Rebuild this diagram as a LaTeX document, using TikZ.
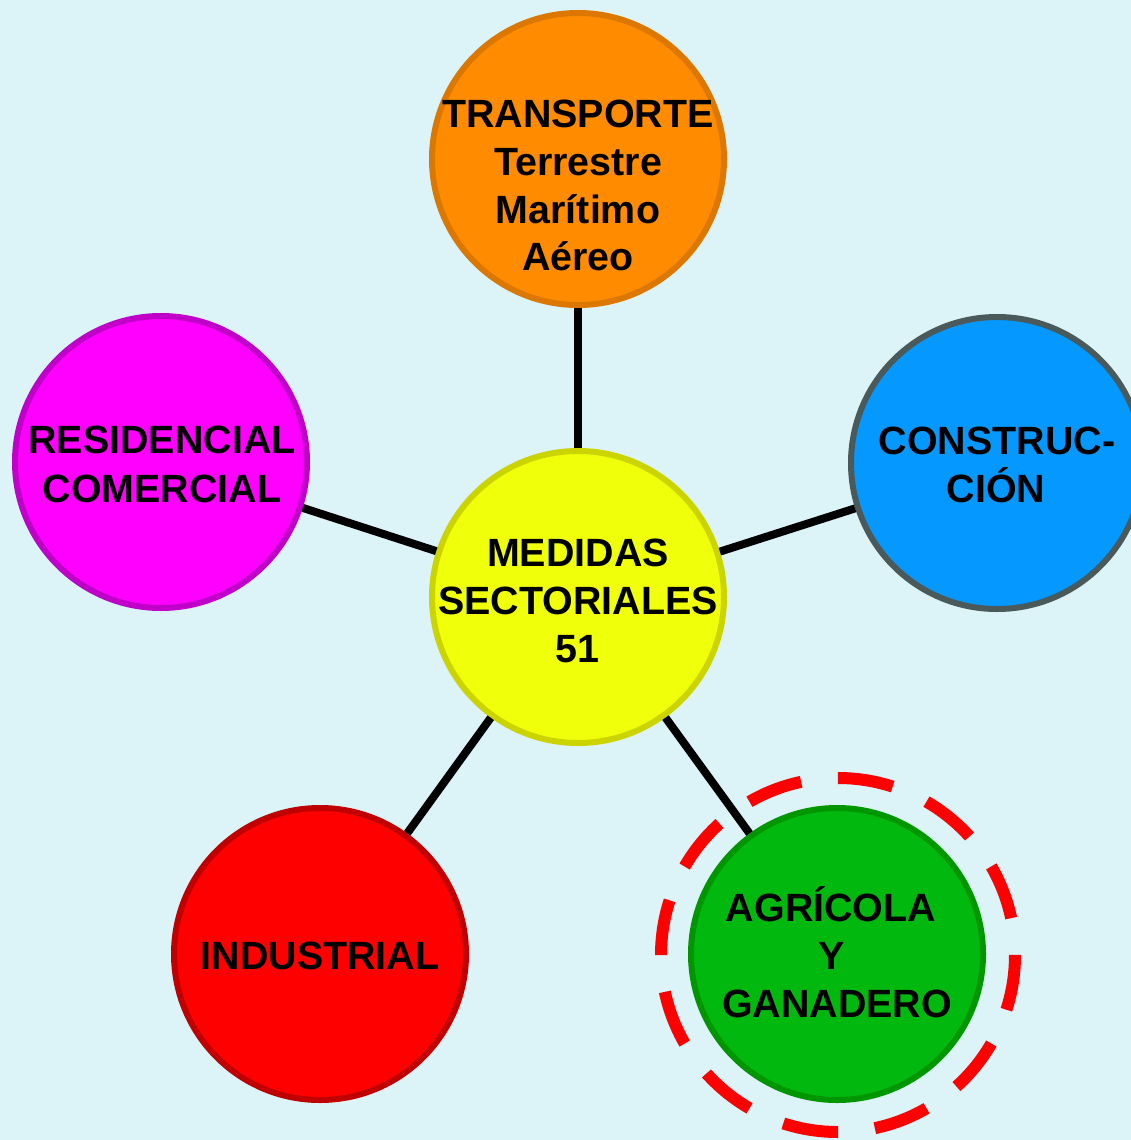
\documentclass[tikz,border=0pt]{standalone}
\usepackage{fontspec}
\setmainfont{Liberation Sans}
\definecolor{bg}{RGB}{220,244,248}
\definecolor{yel}{RGB}{240,255,10}
\definecolor{yelB}{RGB}{204,212,0}
\definecolor{ora}{RGB}{255,140,0}
\definecolor{oraB}{RGB}{220,120,0}
\definecolor{mag}{RGB}{255,0,255}
\definecolor{magB}{RGB}{192,0,200}
\definecolor{blu}{RGB}{5,152,255}
\definecolor{bluB}{RGB}{74,90,90}
\definecolor{rd}{RGB}{255,0,0}
\definecolor{rdB}{RGB}{192,0,0}
\definecolor{grn}{RGB}{0,184,14}
\definecolor{grnB}{RGB}{0,150,0}
\tikzset{
  disc/.style={circle, minimum size=292pt, inner sep=0pt, line width=6pt},
  lbl/.style={anchor=base, inner sep=0pt, text=black, font=\fontsize{39.4}{47}\selectfont\bfseries},
  link/.style={line width=8pt, black},
  ring/.style={line width=12pt, rd, dash pattern=on 55.61pt off 37.07pt}
}
\begin{document}
\begin{tikzpicture}[x=1pt,y=-1pt]
\useasboundingbox (0,0) rectangle (1131,1140);
\clip (0,0) rectangle (1131,1140);
\fill[bg] (0,0) rectangle (1131,1140);
% circles
\node[disc, fill=yel, draw=yelB] (med) at (578,597) {};
\node[disc, fill=ora, draw=oraB] (tra) at (578,159) {};
\node[disc, fill=mag, draw=magB] (res) at (161,462) {};
\node[disc, fill=blu, draw=bluB] (con) at (997,463) {};
\node[disc, fill=rd, draw=rdB] (ind) at (320,954) {};
\node[disc, fill=grn, draw=grnB] (agr) at (837,954) {};
% connectors
\draw[link] (med) -- (tra);
\draw[link] (med) -- (res);
\draw[link] (med) -- (con);
\draw[link] (med) -- (ind);
\draw[link] (med) -- (agr);
% highlight ring
\coordinate (ringc) at (838,955);
\draw[ring] (ringc) ++(177pt,0pt) arc[start angle=0, end angle=-360, radius=177pt];
% labels
\node[lbl] (tra1) at (578,127) {TRANSPORTE};
\node[lbl] (tra2) at (578,175) {Terrestre};
\node[lbl] (tra3) at (578,223) {Marítimo};
\node[lbl] (tra4) at (578,270) {Aéreo};
\node[lbl] (res1) at (162,453) {RESIDENCIAL};
\node[lbl] (res2) at (162,502) {COMERCIAL};
\node[lbl] (con1) at (997,454) {CONSTRUC-};
\node[lbl] (con2) at (996,502) {CIÓN};
\node[lbl] (med1) at (578,566) {MEDIDAS};
\node[lbl] (med2) at (578,614) {SECTORIALES};
\node[lbl] (med3) at (577,662) {51};
\node[lbl] (ind1) at (320,969) {INDUSTRIAL};
\node[lbl] (agr1) at (831,921) {AGRÍCOLA};
\node[lbl] (agr2) at (832,969) {Y};
\node[lbl] (agr3) at (837,1017) {GANADERO};
\end{tikzpicture}
\end{document}
